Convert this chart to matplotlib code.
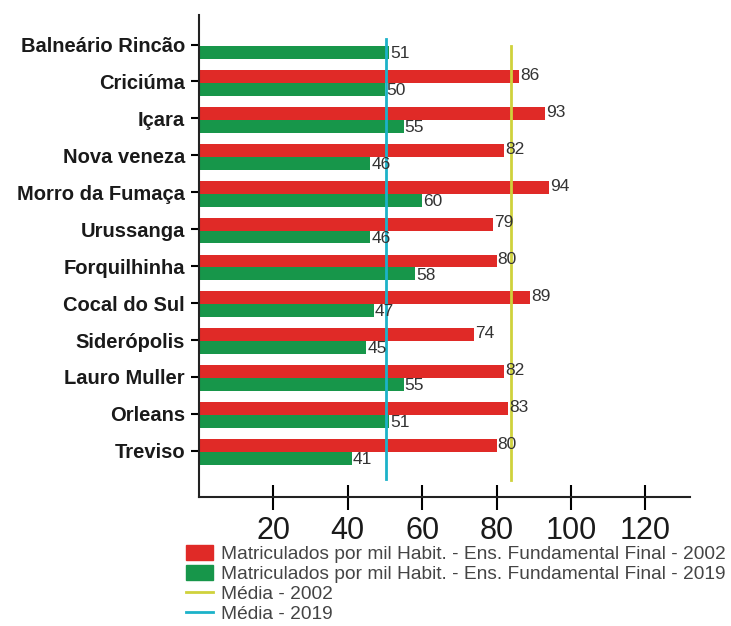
import numpy as np
import matplotlib
matplotlib.use('Agg')
import matplotlib.pyplot as plt
from matplotlib.patches import Patch
from matplotlib.lines import Line2D

plt.rcParams['font.family'] = ['Liberation Sans', 'DejaVu Sans']

# Data
cities = ['Balneário Rincão', 'Criciúma', 'Içara', 'Nova veneza', 'Morro da Fumaça',
          'Urussanga', 'Forquilhinha', 'Cocal do Sul', 'Siderópolis', 'Lauro Muller',
          'Orleans', 'Treviso']
mat_2002 = [np.nan, 86, 93, 82, 94, 79, 80, 89, 74, 82, 83, 80]
mat_2019 = [51, 50, 55, 46, 60, 46, 58, 47, 45, 55, 51, 41]
media_2002 = 83.8
media_2019 = 50.4
xticks = [20, 40, 60, 80, 100, 120]

red = '#e02a27'
green = '#17964a'
yellow = '#cfd23c'
cyan = '#1cb2c9'
txt = '#333333'

fig = plt.figure(figsize=(7.31, 6.26), dpi=100)
ax = fig.add_axes([199 / 731, 1 - 497 / 626, (690 - 199) / 731, (497 - 15) / 626])

y = np.arange(len(cities))
h = 0.35
ax.barh(y - 0.14, mat_2002, height=h, color=red)
ax.barh(y + 0.21, mat_2019, height=h, color=green)

for i, (a, b) in enumerate(zip(mat_2002, mat_2019)):
    if not np.isnan(a):
        ax.text(a + 0.3, i - 0.17, f'{a:.0f}', va='center', ha='left', fontsize=12.5, color=txt)
    ax.text(b + 0.3, i + 0.24, f'{b:.0f}', va='center', ha='left', fontsize=12.5, color=txt)

ax.plot([media_2002, media_2002], [0.05, 11.8], color=yellow, lw=2)
ax.plot([media_2019, media_2019], [-0.15, 11.75], color=cyan, lw=2)

ax.set_xlim(0, 132)
ax.set_ylim(12.25, -0.8)
ax.set_yticks(y)
ax.set_yticklabels(cities, fontsize=14.5, fontweight='bold', color='#1a1a1a')
ax.set_xticks(xticks)
ax.set_xticklabels([str(t) for t in xticks], fontsize=22, color='#1a1a1a')
ax.tick_params(axis='x', direction='inout', length=18, width=1.5, pad=5)
ax.tick_params(axis='y', direction='out', length=6, width=1.5, pad=4)

for s in ['top', 'right']:
    ax.spines[s].set_visible(False)
for s in ['left', 'bottom']:
    ax.spines[s].set_linewidth(1.5)
    ax.spines[s].set_color('#222222')

handles = [
    Patch(color=red, label='Matriculados por mil Habit. - Ens. Fundamental Final - 2002'),
    Patch(color=green, label='Matriculados por mil Habit. - Ens. Fundamental Final - 2019'),
    Line2D([], [], color=yellow, lw=2, label='Média - 2002'),
    Line2D([], [], color=cyan, lw=2, label='Média - 2019'),
]
leg = fig.legend(handles=handles, loc='upper left', bbox_to_anchor=(186 / 731, 1 - 545 / 626),
                 frameon=False, fontsize=13.8, handlelength=1.4, handleheight=0.8,
                 handletextpad=0.45, labelspacing=0.1, borderpad=0, borderaxespad=0)
for t in leg.get_texts():
    t.set_color('#444444')

fig.savefig('out.png', dpi=100)
